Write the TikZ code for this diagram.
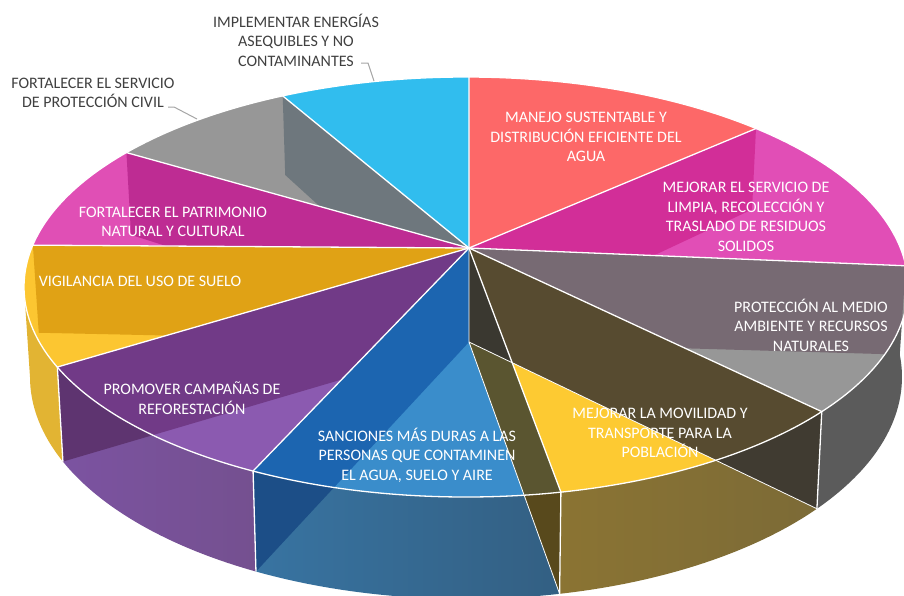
\documentclass[tikz,border=0pt]{standalone}
\usepackage{fontspec}
\setmainfont{Carlito}
\usetikzlibrary{calc}

\definecolor{redtop}{HTML}{FD6868}
\definecolor{magtop}{HTML}{E14EB6}
\definecolor{magwall}{HTML}{D22E98}
\definecolor{prottop}{HTML}{979797}
\definecolor{protwall}{HTML}{776A73}
\definecolor{protside}{HTML}{5B5B5B}
\definecolor{movtop}{HTML}{FDCA32}
\definecolor{movwall}{HTML}{574B30}
\definecolor{movsideA}{HTML}{8B7433}
\definecolor{movsideB}{HTML}{7B6A37}
\definecolor{movsidewall}{HTML}{403B31}
\definecolor{santop}{HTML}{3A8DCB}
\definecolor{sanwall}{HTML}{1C65B0}
\definecolor{sansideA}{HTML}{3874A2}
\definecolor{sansideB}{HTML}{335F82}
\definecolor{sansidewall}{HTML}{1C4E87}
\definecolor{olivewall}{HTML}{5A5530}
\definecolor{olivesidewall}{HTML}{58491C}
\definecolor{darktri}{HTML}{3A3830}
\definecolor{protop}{HTML}{8B5AB0}
\definecolor{prowall}{HTML}{713A87}
\definecolor{prosideA}{HTML}{7C53A2}
\definecolor{prosideB}{HTML}{74508F}
\definecolor{prosidewall}{HTML}{5E3470}
\definecolor{vigtop}{HTML}{FCC631}
\definecolor{vigwall}{HTML}{E0A215}
\definecolor{vigside}{HTML}{E2B433}
\definecolor{pattop}{HTML}{E04FB5}
\definecolor{patwall}{HTML}{BE2C93}
\definecolor{civtop}{HTML}{979797}
\definecolor{civwall}{HTML}{6E777D}
\definecolor{enetop}{HTML}{31BDEE}
\definecolor{labelgray}{HTML}{404040}
\definecolor{leadergray}{HTML}{A5A5A5}

\begin{document}
\begin{tikzpicture}[x=1pt, y=-1pt,
    toparc/.style={x radius=442, y radius=210},
    botarc/.style={x radius=436, y radius=222},
    edge/.style={draw=white, line width=1.3pt},
    lbl/.style={text=white, align=center, font=\fontsize{16}{19.5}\selectfont},
    outlbl/.style={text=labelgray, align=center, font=\fontsize{16}{19.5}\selectfont},
    leader/.style={draw=leadergray, line width=1pt}]

    \useasboundingbox (0,0) rectangle (904,595);
    \clip (0,0) rectangle (904,595);

    % apex of the top face and of the bottom face
    \coordinate (O) at (469,248);
    \coordinate (Ob) at (469,342);

    % rim points, top and bottom
    \foreach \a [count=\i from 0] in {-89.6,-49,-5.8,36.4,77.6,118.8,157.6,191.5,219.8,245.5,270.4} {
        \coordinate (t\i) at ($(466,287)+(\a:442 and 210)$);
        \coordinate (b\i) at ($(466,377)+(\a:436 and 222)$);
    }
    \coordinate (bl) at ($(466,377)+(180:436 and 222)$);
    \coordinate (X) at (intersection of O--t4 and Ob--b3);

    % side faces
    \begin{scope}
        \clip (t2) arc[toparc, start angle=-5.8, end angle=36.4] -- (b3) arc[botarc, start angle=36.4, end angle=-5.8] -- cycle;
        \fill[protside] (0,0) rectangle (904,595);
    \end{scope}
    \begin{scope}
        \clip (t3) arc[toparc, start angle=36.4, end angle=77.6] -- (b4) arc[botarc, start angle=77.6, end angle=36.4] -- cycle;
        \shade[left color=movsideA, right color=movsideB] (555,400) rectangle (830,600);
        \fill[movsidewall] (O) -- (t3) -- (b3) -- (Ob) -- cycle;
    \end{scope}
    \begin{scope}
        \clip (t4) arc[toparc, start angle=77.6, end angle=118.8] -- (b5) arc[botarc, start angle=118.8, end angle=77.6] -- cycle;
        \shade[left color=sansideA, right color=sansideB] (250,440) rectangle (565,600);
        \fill[sansidewall] (O) -- (t5) -- (b5) -- (Ob) -- cycle;
        \fill[olivesidewall] (O) -- (t4) -- (b4) -- (Ob) -- cycle;
    \end{scope}
    \begin{scope}
        \clip (t5) arc[toparc, start angle=118.8, end angle=157.6] -- (b6) arc[botarc, start angle=157.6, end angle=118.8] -- cycle;
        \shade[left color=prosideA, right color=prosideB] (50,360) rectangle (262,600);
        \fill[prosidewall] (O) -- (t6) -- (b6) -- (Ob) -- cycle;
    \end{scope}
    \fill[vigside] (t6) arc[toparc, start angle=157.6, end angle=180] -- (bl) arc[botarc, start angle=180, end angle=157.6] -- cycle;

    % top faces
    \fill[redtop] (O) -- (t0) arc[toparc, start angle=-89.6, end angle=-49] -- cycle;
    \begin{scope}
        \clip (O) -- (t1) arc[toparc, start angle=-49, end angle=-5.8] -- cycle;
        \fill[magtop] (0,0) rectangle (904,595);
        \fill[magwall] (O) -- (t1) -- (b1) -- (Ob) -- cycle;
    \end{scope}
    \begin{scope}
        \clip (O) -- (t2) arc[toparc, start angle=-5.8, end angle=36.4] -- cycle;
        \fill[prottop] (0,0) rectangle (904,595);
        \fill[protwall] (O) -- (t2) -- (b2) -- (Ob) -- cycle;
    \end{scope}
    \begin{scope}
        \clip (O) -- (t3) arc[toparc, start angle=36.4, end angle=77.6] -- cycle;
        \fill[movtop] (0,0) rectangle (904,595);
        \fill[movwall] (O) -- (t3) -- (b3) -- (Ob) -- cycle;
    \end{scope}
    \begin{scope}
        \clip (O) -- (t4) arc[toparc, start angle=77.6, end angle=118.8] -- cycle;
        \fill[santop] (0,0) rectangle (904,595);
        \fill[sanwall] (O) -- (t5) -- (b5) -- (Ob) -- cycle;
        \fill[olivewall] (O) -- (t4) -- (b4) -- (Ob) -- cycle;
        \fill[darktri] (O) -- (Ob) -- (X) -- cycle;
    \end{scope}
    \begin{scope}
        \clip (O) -- (t5) arc[toparc, start angle=118.8, end angle=157.6] -- cycle;
        \fill[protop] (0,0) rectangle (904,595);
        \fill[prowall] (O) -- (t6) -- (b6) -- (Ob) -- cycle;
    \end{scope}
    \begin{scope}
        \clip (O) -- (t6) arc[toparc, start angle=157.6, end angle=191.5] -- cycle;
        \fill[vigtop] (0,0) rectangle (904,595);
        \fill[vigwall] (O) -- (t7) -- (b7) -- (Ob) -- cycle;
    \end{scope}
    \begin{scope}
        \clip (O) -- (t7) arc[toparc, start angle=191.5, end angle=219.8] -- cycle;
        \fill[pattop] (0,0) rectangle (904,595);
        \fill[patwall] (O) -- (t8) -- (b8) -- (Ob) -- cycle;
    \end{scope}
    \begin{scope}
        \clip (O) -- (t8) arc[toparc, start angle=219.8, end angle=245.5] -- cycle;
        \fill[civtop] (0,0) rectangle (904,595);
        \fill[civwall] (O) -- (t9) -- (b9) -- (Ob) -- cycle;
    \end{scope}
    \fill[enetop] (O) -- (t9) arc[toparc, start angle=245.5, end angle=270.4] -- cycle;

    % white edges
    \draw[edge] (466,287) ellipse[x radius=442, y radius=210];
    \foreach \i in {0,...,9} \draw[edge] (O) -- (t\i);
    \foreach \i in {3,...,6} \draw[edge] (t\i) -- (b\i);
    \draw[edge, line width=0.8pt] (O) -- (Ob) -- (b3);
    \draw[edge, line width=0.8pt] (Ob) -- (b4);

    % labels on the slices
    \node[lbl] (manejo) at (586,137) {MANEJO SUSTENTABLE Y\\DISTRIBUCIÓN EFICIENTE DEL\\AGUA};
    \node[lbl] (limpia) at (746,217) {MEJORAR EL SERVICIO DE\\LIMPIA, RECOLECCIÓN Y\\TRASLADO DE RESIDUOS\\SOLIDOS};
    \node[lbl] (medio) at (811,325) {PROTECCIÓN AL MEDIO\\AMBIENTE Y RECURSOS\\NATURALES};
    \node[lbl] (movilidad) at (660,433) {MEJORAR LA MOVILIDAD Y\\TRANSPORTE PARA LA\\POBLACIÓN};
    \node[lbl] (sanciones) at (417,455) {SANCIONES MÁS DURAS A LAS\\PERSONAS QUE CONTAMINEN\\EL AGUA, SUELO Y AIRE};
    \node[lbl] (campanas) at (192,398) {PROMOVER CAMPAÑAS DE\\REFORESTACIÓN};
    \node[lbl] (suelo) at (140,281) {VIGILANCIA DEL USO DE SUELO};
    \node[lbl] (patrimonio) at (173,222) {FORTALECER EL PATRIMONIO\\NATURAL Y CULTURAL};

    % labels outside, with leaders
    \node[outlbl] (civil) at (93,93) {FORTALECER EL SERVICIO\\DE PROTECCIÓN CIVIL};
    \node[outlbl] (energias) at (296,40) {IMPLEMENTAR ENERGÍAS\\ASEQUIBLES Y NO\\CONTAMINANTES};
    \coordinate (civilA) at (168,107);
    \coordinate (civilB) at (197,119);
    \coordinate (enerA) at (361,63);
    \coordinate (enerB) at (374,81);
    \draw[leader] (civilA) -- ++(6,0) -- (civilB);
    \draw[leader] (enerA) -- ++(7,0) -- (enerB);
\end{tikzpicture}
\end{document}
